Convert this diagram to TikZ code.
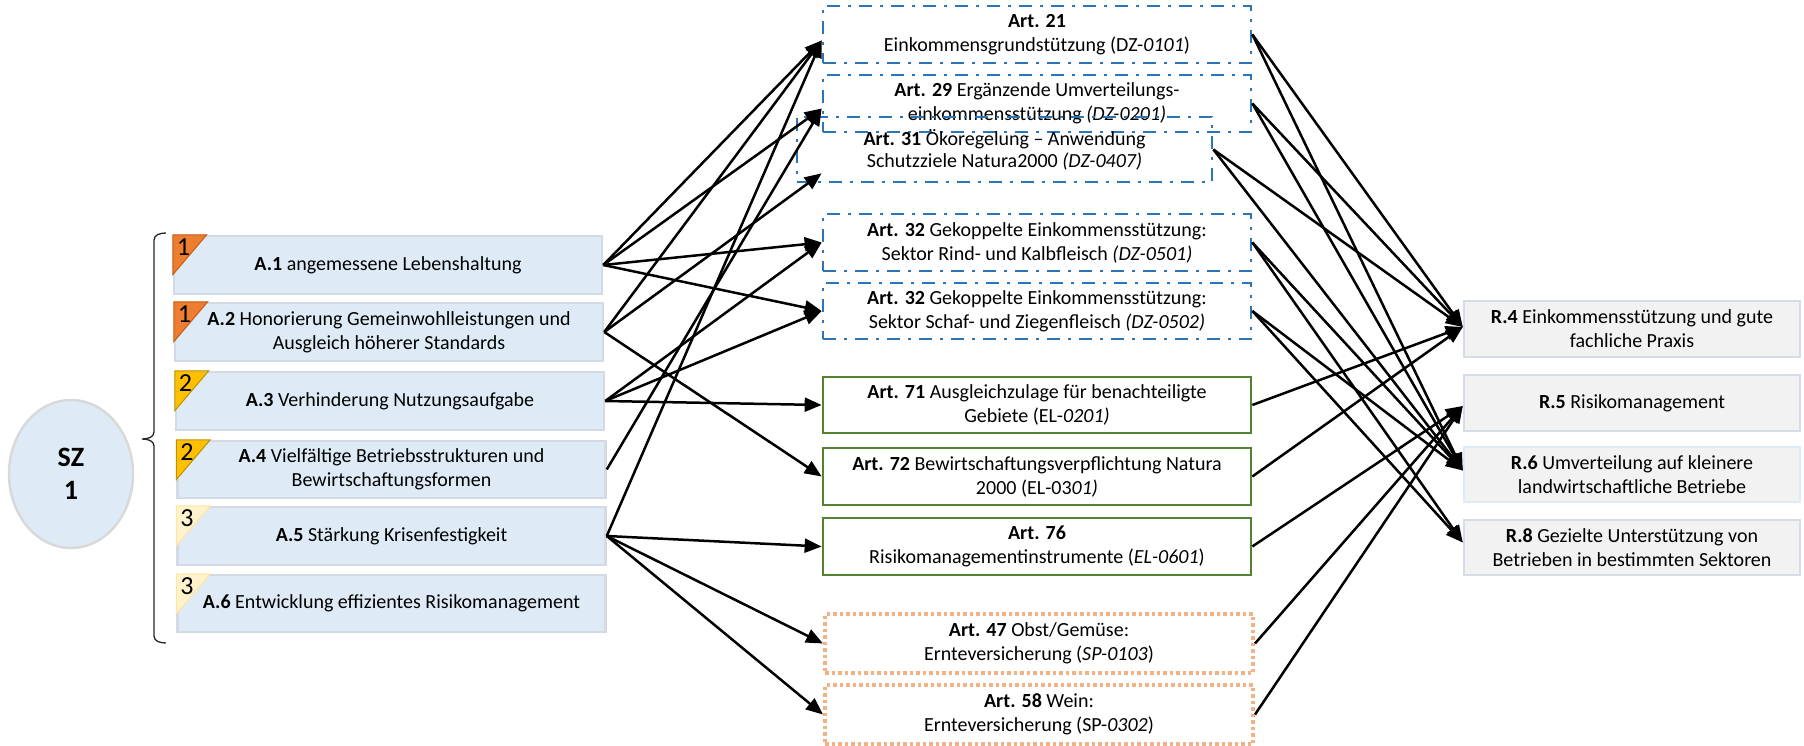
\documentclass[tikz,border=0pt]{standalone}
\usepackage{fontspec}
\setmainfont{Carlito}
\usetikzlibrary{arrows.meta,calc,shapes.geometric}
\definecolor{aFill}{HTML}{DEEBF7}
\definecolor{aBorder}{HTML}{D3DAE3}
\definecolor{rFill}{HTML}{F2F2F2}
\definecolor{rBorder}{HTML}{D6DCE5}
\definecolor{rBorderL}{HTML}{DEEBF7}
\definecolor{szBorder}{HTML}{D9D9D9}
\definecolor{artBlue}{HTML}{2E75B6}
\definecolor{artGreen}{HTML}{548235}
\definecolor{artOrange}{HTML}{F4B183}
\definecolor{triA}{HTML}{ED7D31}
\definecolor{triAD}{HTML}{C55A11}
\definecolor{triB}{HTML}{FFC000}
\definecolor{triBD}{HTML}{BF9000}
\definecolor{triC}{HTML}{FFF2CC}
\definecolor{triCD}{HTML}{FFE699}
\newcommand\fsA{\fontsize{20}{24}\selectfont}
\newcommand\fsN{\fontsize{26}{28}\selectfont}
\newcommand\fsSZ{\fontsize{28}{33}\selectfont}
\begin{document}
\begin{tikzpicture}[x=1pt,y=-1pt,
  every node/.style={inner sep=0pt, align=center, font=\fsA},
  abox/.style={draw=aBorder, fill=aFill, line width=2.5pt, minimum width=428pt, minimum height=58pt},
  bluebox/.style={draw=artBlue, line width=2.7pt, dash pattern=on 13pt off 8pt on 3pt off 8pt, minimum width=428pt, minimum height=57pt},
  greenbox/.style={draw=artGreen, line width=2.7pt, minimum width=428pt, minimum height=57pt},
  dotbox/.style={draw=artOrange, line width=4pt, dash pattern=on 3.5pt off 3pt, minimum width=428pt, minimum height=59pt},
  rbox/.style={draw=rBorder, fill=rFill, line width=2.5pt, minimum width=336pt, minimum height=56pt},
  conn/.style={line width=2.5pt, -{Triangle[length=17pt,width=14pt]}},
  num/.style={font=\fsN, anchor=base west},
  tri/.style={line width=1pt},
]
\useasboundingbox (0,0) rectangle (1804,746);

% SZ ellipse
\node[ellipse, draw=szBorder, fill=aFill, line width=2.5pt, minimum width=124pt, minimum height=148pt, font=\fsSZ] (sz) at (71,474) {\textbf{SZ}\\\textbf{1}};

% brace
\draw[line width=1.3pt, black!85] (166,233) to[out=180,in=90] (154,240) -- (154,432) to[out=-90,in=0] (142,439) to[out=0,in=90] (154,446) -- (154,636) to[out=-90,in=180] (166,643);

% A boxes
\node[abox] (a1) at (388,265) {\textbf{A.1} angemessene Lebenshaltung};
\node[abox] (a2) at (389,332) {\textbf{A.2} Honorierung Gemeinwohlleistungen und\\Ausgleich höherer Standards};
\node[abox] (a3) at (390,401) {\textbf{A.3} Verhinderung Nutzungsaufgabe};
\node[abox, minimum height=57pt] (a4) at (391.5,469.5) {\textbf{A.4} Vielfältige Betriebsstrukturen und\\Bewirtschaftungsformen};
\node[abox] (a5) at (391.5,536) {\textbf{A.5} Stärkung Krisenfestigkeit};
\node[abox, minimum height=57pt] (a6) at (391.5,603.5) {\textbf{A.6} Entwicklung effizientes Risikomanagement};

% priority triangles
\filldraw[tri, fill=triA, draw=triAD] (a1.north west) -- ++(34,0) -- ++(-34,40) -- cycle;
\filldraw[tri, fill=triA, draw=triAD] (a2.north west) -- ++(34,0) -- ++(-34,40) -- cycle;
\filldraw[tri, fill=triB, draw=triBD] (a3.north west) -- ++(34,0) -- ++(-34,40) -- cycle;
\filldraw[tri, fill=triB, draw=triBD] (a4.north west) -- ++(34,0) -- ++(-34,40) -- cycle;
\filldraw[tri, fill=triC, draw=triCD] (a5.north west) -- ++(34,0) -- ++(-34,40) -- cycle;
\filldraw[tri, fill=triC, draw=triCD] (a6.north west) -- ++(34,0) -- ++(-34,40) -- cycle;
\node[num] (n1) at ($(a1.north west)+(4,21)$) {1};
\node[num] (n2) at ($(a2.north west)+(4,21)$) {1};
\node[num] (n3) at ($(a3.north west)+(4,21)$) {2};
\node[num] (n4) at ($(a4.north west)+(4,21)$) {2};
\node[num] (n5) at ($(a5.north west)+(4,21)$) {3};
\node[num] (n6) at ($(a6.north west)+(4,21)$) {3};

% middle boxes
\node[bluebox] (art21) at (1037,34.5) {\textbf{Art. 21}\\Einkommensgrundstützung (DZ-\textit{0101})};
\node[bluebox] (art29) at (1037,103.5) {\textbf{Art. 29} Ergänzende Umverteilungs-\\einkommensstützung \textit{(DZ-0201)}};
\node[bluebox, minimum width=415pt, minimum height=65pt, font=\fontsize{20}{22}\selectfont] (art31) at (1004.5,149.5) {\textbf{Art. 31} Ökoregelung – Anwendung\\Schutzziele Natura2000 \textit{(DZ-0407)}};
\node[bluebox] (art32a) at (1037,242.5) {\textbf{Art. 32} Gekoppelte Einkommensstützung:\\Sektor Rind- und Kalbfleisch \textit{(DZ-0501)}};
\node[bluebox, minimum height=56pt] (art32b) at (1037,311) {\textbf{Art. 32} Gekoppelte Einkommensstützung:\\Sektor Schaf- und Ziegenfleisch \textit{(DZ-0502)}};
\node[greenbox, minimum height=56pt] (art71) at (1037,405) {\textbf{Art. 71} Ausgleichzulage für benachteiligte\\Gebiete (EL-\textit{0201)}};
\node[greenbox] (art72) at (1037,476.5) {\textbf{Art. 72} Bewirtschaftungsverpflichtung Natura\\2000 (EL-03\textit{01)}};
\node[greenbox] (art76) at (1037,546.5) {\textbf{Art. 76}\\Risikomanagementinstrumente (\textit{EL-0601})};
\node[dotbox] (art47) at (1039,643.5) {\textbf{Art. 47} Obst/Gemüse:\\Ernteversicherung (\textit{SP-0103})};
\node[dotbox] (art58) at (1039,714.5) {\textbf{Art. 58} Wein:\\Ernteversicherung (SP-\textit{0302})};

% result boxes
\node[rbox] (r4) at (1632,329) {\textbf{R.4} Einkommensstützung und gute\\fachliche Praxis};
\node[rbox] (r5) at (1632,403) {\textbf{R.5} Risikomanagement};
\node[rbox, draw=rBorderL, minimum height=55pt] (r6) at (1632,474.5) {\textbf{R.6} Umverteilung auf kleinere\\landwirtschaftliche Betriebe};
\node[rbox, minimum height=55pt] (r8) at (1632,547.5) {\textbf{R.8} Gezielte Unterstützung von\\Betrieben in bestimmten Sektoren};

% connection points
\coordinate (art21in) at ($(art21.west)+(0,6)$);
\coordinate (art29in) at ($(art29.west)+(0,5)$);
\coordinate (art31in) at ($(art21.west |- art31.south)+(0,-10)$);
\coordinate (r4in) at ($(r4.west)+(0,-2)$);
\coordinate (r5in) at ($(r5.west)+(0,3)$);
\coordinate (r6in) at ($(r6.west)+(0,-4)$);
\coordinate (r8in) at ($(r8.west)+(0,-5)$);

% left connectors
\draw[conn] (a1.east) -- (art21in);
\draw[conn] (a1.east) -- (art29in);
\draw[conn] (a1.east) -- (art32a.west);
\draw[conn] (a1.east) -- (art32b.west);
\draw[conn] (a2.east) -- (art21in);
\draw[conn] (a2.east) -- (art31in);
\draw[conn] (a2.east) -- (art72.west);
\draw[conn] (a3.east) -- (art32a.west);
\draw[conn] (a3.east) -- (art32b.west);
\draw[conn] (a3.east) -- (art71.west);
\draw[conn] (a4.east) -- (art29in);
\draw[conn] (a5.east) -- (art21in);
\draw[conn] (a5.east) -- (art76.west);
\draw[conn] (a5.east) -- (art47.west);
\draw[conn] (a5.east) -- (art58.west);

% right connectors
\draw[conn] (art21.east) -- (r4in);
\draw[conn] (art21.east) -- (r6in);
\draw[conn] (art29.east) -- (r4in);
\draw[conn] (art29.east) -- (r6in);
\draw[conn] (art31.east) -- (r4in);
\draw[conn] (art31.east) -- (r6in);
\draw[conn] (art32a.east) -- (r6in);
\draw[conn] (art32a.east) -- (r8in);
\draw[conn] (art32b.east) -- (r6in);
\draw[conn] (art32b.east) -- (r8in);
\draw[conn] (art71.east) -- (r4in);
\draw[conn] (art72.east) -- (r4in);
\draw[conn] (art76.east) -- (r5in);
\draw[conn] (art47.east) -- (r5in);
\draw[conn] (art58.east) -- (r5in);
\end{tikzpicture}
\end{document}
